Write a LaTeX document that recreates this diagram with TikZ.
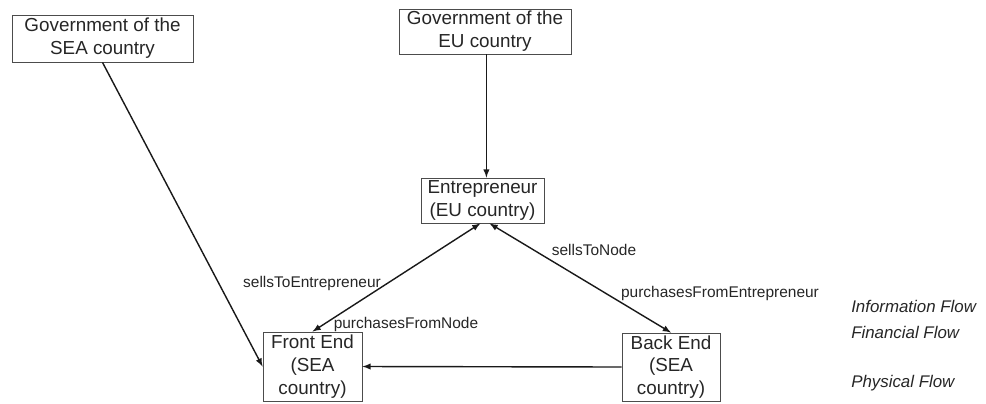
\documentclass[tikz,border=0pt]{standalone}
\usepackage{fontspec}
\setmainfont{Liberation Sans}
\usetikzlibrary{arrows}
\tikzset{>=latex}
\tikzstyle{box} = [draw=black!70, line width=0.6pt, align=center, inner sep=0pt,
  text=black!85, font=\fontsize{13.4}{16.2}\selectfont]
\tikzstyle{arrow} = [line width=1pt, black!90, ->, >=latex]
\tikzstyle{flowlabel} = [font=\fontsize{11}{13}\selectfont, text=black!85, inner sep=0pt]

\begin{document}
\begin{tikzpicture}[x=0.025cm, y=-0.025cm]
\useasboundingbox (0,0) rectangle (986,403);

\node [box, minimum width=181*0.025cm, minimum height=47*0.025cm] (gov-sea) at (102.5,38.5)
  {Government of the\\SEA country};
\node [box, minimum width=172*0.025cm, minimum height=45*0.025cm] (gov-eu) at (485,31.5)
  {Government of the\\EU country};
\node [box, minimum width=123*0.025cm, minimum height=45*0.025cm] (entrepreneur) at (482.5,200.5)
  {Entrepreneur\\(EU country)};
\node [box, minimum width=99*0.025cm, minimum height=69*0.025cm] (front-end) at (312.5,366.5)
  {Front End\\(SEA\\country)};
\node [box, minimum width=98*0.025cm, minimum height=68*0.025cm] (back-end) at (671,367)
  {Back End\\(SEA\\country)};

\draw [arrow] ([xshift=1]gov-eu.south) -- ([xshift=1]gov-eu.south |- entrepreneur.north);
\draw [arrow] (gov-sea.south) -- (front-end.west);
\draw [arrow, <->] (front-end.north) -- ([xshift=-1.5]entrepreneur.south);
\draw [arrow, <->] ([xshift=5]entrepreneur.south) -- (back-end.north);
\draw [arrow] (back-end.west) -- (front-end.east);

\node [flowlabel] (sells-entr) at (312,283) {sellsToEntrepreneur};
\node [flowlabel] (purch-node) at (406,324) {purchasesFromNode};
\node [flowlabel] (sells-node) at (594,250) {sellsToNode};
\node [flowlabel] (purch-entr) at (720,293) {purchasesFromEntrepreneur};

\foreach \l/\y in {Information/306, Financial/332, Physical/383}
  \node [anchor=west, inner sep=0pt, text=black!85,
    font=\fontsize{12}{14}\selectfont\itshape] (legend-\l) at (851,\y) {\l\ Flow};

\end{tikzpicture}
\end{document}
